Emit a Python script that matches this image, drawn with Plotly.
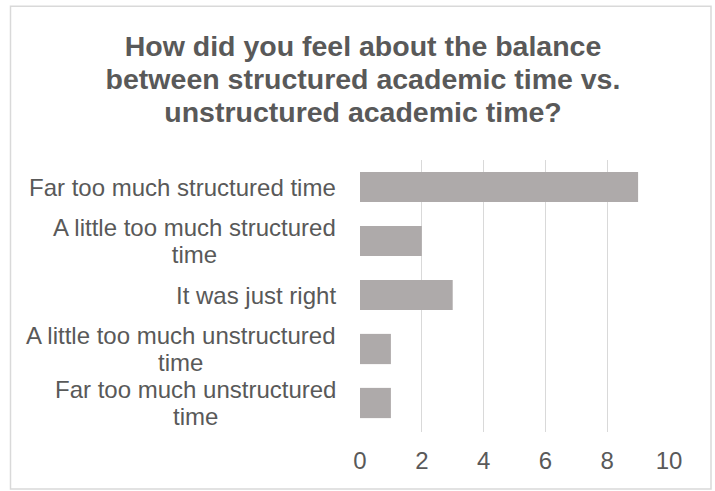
import plotly.graph_objects as go

# Survey responses (top to bottom as displayed)
categories = [
    "Far too much structured time",
    "A little too much structured\ntime",
    "It was just right",
    "A little too much unstructured\ntime",
    "Far too much unstructured\ntime",
]
counts = [9, 2, 3, 1, 1]
x_ticks = [0, 2, 4, 6, 8, 10]

title_lines = [
    "How did you feel about the balance",
    "between structured academic time vs.",
    "unstructured academic time?",
]

TEXT = "#595959"
BAR = "#AEAAAA"
GRID = "#D9D9D9"
FONT = "Liberation Sans, Arial, sans-serif"

W, H = 715, 491
L, R, T, B = 360, 46, 160, 58.5
pw, ph = W - L - R, H - T - B


def tight_lines(lines, glyph_px):
    """Join lines with <br>, drawing glyphs at glyph_px while the line pitch
    follows the (smaller) outer font size."""
    return "<br>".join(f'<span style="font-size:{glyph_px}px">{ln}</span>' for ln in lines)


fig = go.Figure(
    go.Bar(
        x=counts,
        y=categories,
        orientation="h",
        marker=dict(color=BAR, line=dict(width=0)),
        hoverinfo="x+y",
    )
)

# Category labels: centred multi-line blocks, right-aligned against the axis
for cat in categories:
    fig.add_annotation(
        x=0, xref="paper", y=cat, yref="y",
        text=tight_lines(cat.split("\n"), 24), showarrow=False,
        xanchor="right", yanchor="middle", align="center",
        xshift=-22,
        font=dict(family=FONT, size=20.5, color=TEXT),
    )

# Light frame around the whole chart
fig.add_shape(
    type="rect", xref="paper", yref="paper",
    x0=(10.5 - L) / pw, x1=(711 - L) / pw,
    y0=(H - B - 489.5) / ph, y1=(H - B - 6) / ph,
    line=dict(color=GRID, width=1.5), fillcolor="rgba(0,0,0,0)",
    layer="below",
)

fig.update_layout(
    width=W, height=H,
    margin=dict(l=L, r=R, t=T, b=B),
    paper_bgcolor="white", plot_bgcolor="white",
    bargap=0.44,
    showlegend=False,
    title=dict(
        text="<b>" + tight_lines(title_lines, 28.5) + "</b>",
        x=363 / W, xanchor="center",
        y=1 - 56 / H, yanchor="middle",
        font=dict(family=FONT, size=25.5, color=TEXT),
    ),
    xaxis=dict(
        range=[0, 10],
        tickvals=x_ticks,
        ticktext=[str(v) for v in x_ticks],
        showgrid=True, gridcolor=GRID, gridwidth=1.3,
        zeroline=False, showline=False,
        ticks="", ticklabelstandoff=12,
        tickfont=dict(family=FONT, size=24, color=TEXT),
        fixedrange=True,
    ),
    yaxis=dict(
        categoryorder="array", categoryarray=categories,
        autorange="reversed",
        showticklabels=False, showgrid=False,
        zeroline=False, showline=False, ticks="",
        fixedrange=True,
    ),
)

fig.write_html("out.html")
